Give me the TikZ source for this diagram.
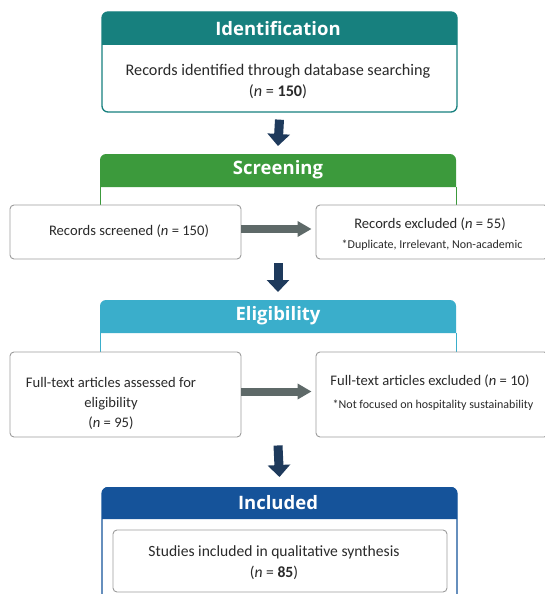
\documentclass[tikz,border=0pt]{standalone}
\usepackage{fontspec}
\setmainfont{Carlito}
\newfontfamily\headfont{Open Sans}
\usetikzlibrary{arrows.meta}
\definecolor{idc}{HTML}{17807E}
\definecolor{scc}{HTML}{3C9A3C}
\definecolor{elc}{HTML}{3AAECB}
\definecolor{inc}{HTML}{15539A}
\definecolor{navy}{HTML}{1E3A5C}
\definecolor{grayarr}{HTML}{5E6968}
\definecolor{boxline}{HTML}{9C9C9C}
\definecolor{txt}{HTML}{2A2A2A}
\tikzset{
  headtxt/.style={text=white, font=\headfont\bfseries\fontsize{18.5}{20}\selectfont, inner sep=0pt},
  bodytxt/.style={text=txt, font=\fontsize{16.2}{21}\selectfont, align=center, inner sep=0pt},
  boxtxt/.style={text=txt, font=\fontsize{14.6}{20}\selectfont, align=center, inner sep=0pt},
  smalltxt/.style={text=txt, font=\fontsize{12}{13}\selectfont, inner sep=0pt},
  sidebox/.style={draw=boxline, fill=white, rounded corners=4pt, line width=0.9pt, inner sep=0pt},
  downarrow/.style={draw=navy, line width=9pt, -{Triangle[width=22pt,length=12pt]}},
  sidearrow/.style={draw=grayarr, line width=8pt, -{Triangle[width=15pt,length=14pt]}},
}
\begin{document}
\begin{tikzpicture}[x=1pt,y=-1pt]
\clip (0,0) rectangle (545,594);
\fill[white] (0,0) rectangle (545,594);

% Identification
\node[draw=idc, line width=1.3pt, fill=white, rounded corners=6pt, minimum width=355pt, minimum height=100pt, inner sep=0pt] (idbox) at (279.5,62) {};
\fill[idc] (102,45) [rounded corners=6pt] -- (102,12) -- (457,12) [sharp corners] -- (457,45) -- cycle;
\node[headtxt] (idt) at (278,29) {Identification};
\node[bodytxt] (idtext) at (278,81) {Records identified through database searching\\(\textit{n} = \textbf{150})};

% Screening
\fill[scc] (100,187) [rounded corners=6pt] -- (100,154) -- (456,154) [sharp corners] -- (456,187) -- cycle;
\node[headtxt] (sct) at (278,170) {Screening};
\coordinate (scrtop) at (278,154);
\draw[scc, line width=1pt] (100,187) -- (100,215);
\draw[scc, line width=1pt] (456,187) -- (456,215);
\node[sidebox, minimum width=231pt, minimum height=54pt] (rs) at (125.5,232) {};
\node[sidebox, minimum width=232pt, minimum height=54pt] (rx) at (432,232) {};
\node[boxtxt] (rstext) at (129,231) {Records screened (\textit{n} = 150)};
\node[boxtxt] (rxtext) at (430,224) {Records excluded (\textit{n} = 55)};
\node[smalltxt] (rxnote) at (432,245) {*Duplicate, Irrelevant, Non-academic};
\draw[sidearrow] ([yshift=3pt]rs.east) -- ([yshift=3pt,xshift=-4pt]rx.west);

% Eligibility
\fill[elc] (100,333) [rounded corners=6pt] -- (100,300) -- (456,300) [sharp corners] -- (456,333) -- cycle;
\node[headtxt] (elt) at (278,316) {Eligibility};
\coordinate (eltop) at (278,300);
\draw[elc, line width=1pt] (100,333) -- (100,360);
\draw[elc, line width=1pt] (456,333) -- (456,360);
\node[sidebox, minimum width=231pt, minimum height=85pt] (fa) at (125.5,394.5) {};
\node[sidebox, minimum width=232pt, minimum height=85pt] (fx) at (432,394.5) {};
\node[boxtxt] (fatext) at (111,403) {Full-text articles assessed for\\eligibility\\(\textit{n} = 95)};
\node[boxtxt] (fxtext) at (430,381) {Full-text articles excluded (\textit{n} = 10)};
\node[smalltxt] (fxnote) at (433,405) {*Not focused on hospitality sustainability};
\draw[sidearrow] ([yshift=3pt]fa.east) -- ([yshift=3pt,xshift=-4pt]fx.west);

% Included
\node[draw=inc, line width=1.3pt, fill=white, rounded corners=6pt, minimum width=355pt, minimum height=125pt, inner sep=0pt, anchor=north] (inbox) at (279.5,487) {};
\fill[inc] (102,519) [rounded corners=6pt] -- (102,487) -- (457,487) [sharp corners] -- (457,519) -- cycle;
\node[headtxt] (int) at (278,503) {Included};
\node[sidebox, minimum width=334pt, minimum height=62pt] (st) at (280,561) {};
\node[bodytxt, font=\fontsize{15.6}{21}\selectfont] (sttext) at (274,563) {Studies included in qualitative synthesis\\(\textit{n} = \textbf{85})};

% down arrows
\draw[downarrow] ([yshift=-7pt]idbox.south) -- ([yshift=8pt]scrtop);
\draw[downarrow] ([yshift=-4pt]rs.south -| scrtop) -- ([yshift=8pt]eltop);
\draw[downarrow] ([yshift=-8pt]fa.south -| eltop) -- ([yshift=10pt]inbox.north);
\end{tikzpicture}
\end{document}
